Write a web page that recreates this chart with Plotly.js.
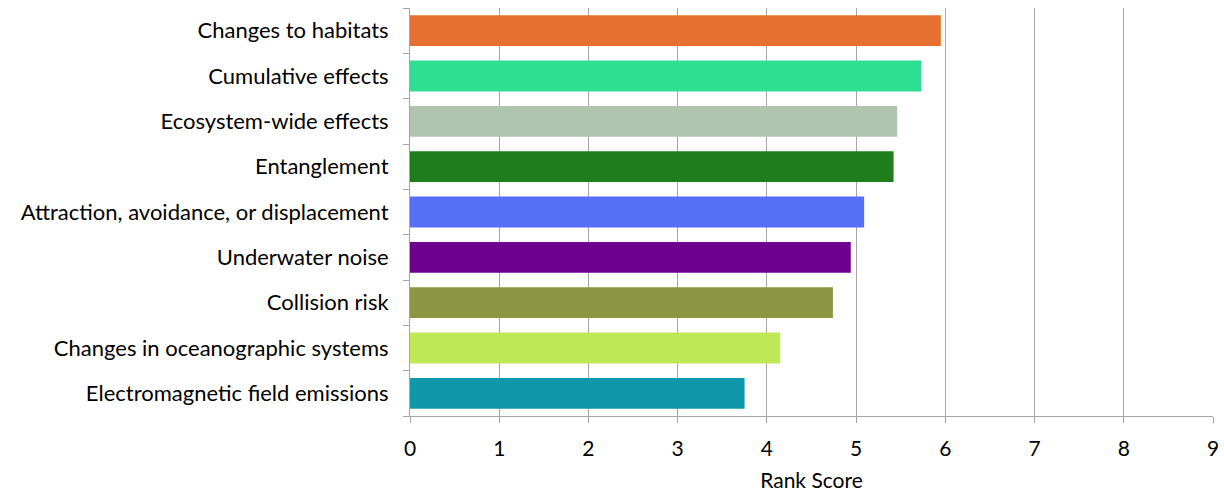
<!DOCTYPE html>
<html>
<head>
<meta charset="utf-8">
<script src="https://cdn.plot.ly/plotly-3.0.1.min.js"></script>
<style>
  html, body { margin: 0; padding: 0; background: #ffffff; }
  #chart { width: 1224px; height: 495px; }
</style>
</head>
<body>
<div id="chart"></div>
<script>
// Impact categories, listed bottom-to-top as drawn on the category axis
const categories = [
  "Electromagnetic field emissions",
  "Changes in oceanographic systems",
  "Collision risk",
  "Underwater noise",
  "Attraction, avoidance, or displacement",
  "Entanglement",
  "Ecosystem-wide effects",
  "Cumulative effects",
  "Changes to habitats"
];

// Mean rank score for each category
const rankScores = [3.75, 4.15, 4.74, 4.94, 5.09, 5.42, 5.46, 5.73, 5.95];

// One fill per bar
const barColors = [
  "#1098AA",
  "#BEE856",
  "#8C9642",
  "#6F008F",
  "#5670F5",
  "#207D1E",
  "#AFC4AD",
  "#2EDF92",
  "#E57030"
];

// Numeric tick labels along the score axis
const scoreTicks = [0, 1, 2, 3, 4, 5, 6, 7, 8, 9];

const font = "Lato, 'Open Sans', sans-serif";

const trace = {
  type: "bar",
  orientation: "h",
  x: rankScores,
  y: categories,
  marker: { color: barColors, line: { width: 0 } },
  hoverinfo: "x+y"
};

const layout = {
  width: 1224,
  height: 495,
  margin: { l: 410, r: 11, t: 8, b: 79 },
  paper_bgcolor: "#ffffff",
  plot_bgcolor: "#ffffff",
  showlegend: false,
  bargap: 0.32,
  font: { family: font, size: 21, color: "#000000" },
  xaxis: {
    range: [0, 9],
    tickvals: scoreTicks,
    ticktext: scoreTicks.map(String),
    showgrid: true,
    gridcolor: "#a6a6a6",
    gridwidth: 1,
    zeroline: false,
    showline: true,
    linecolor: "#a6a6a6",
    linewidth: 1,
    ticks: "outside",
    ticklen: 6,
    tickcolor: "#a6a6a6",
    tickfont: { family: font, size: 21, color: "#000000" },
    ticklabelstandoff: 8,
    title: { text: "Rank Score", font: { family: font, size: 21, color: "#000000" }, standoff: 14 },
    fixedrange: true
  },
  yaxis: {
    type: "category",
    categoryorder: "array",
    categoryarray: categories,
    showgrid: false,
    zeroline: false,
    showline: true,
    linecolor: "#a6a6a6",
    linewidth: 1,
    ticks: "outside",
    tickson: "boundaries",
    ticklen: 6,
    tickcolor: "#a6a6a6",
    tickfont: { family: font, size: 22, color: "#000000" },
    ticklabelstandoff: 16,
    fixedrange: true
  }
};

Plotly.newPlot("chart", [trace], layout, { displayModeBar: false, staticPlot: true });
</script>
</body>
</html>
